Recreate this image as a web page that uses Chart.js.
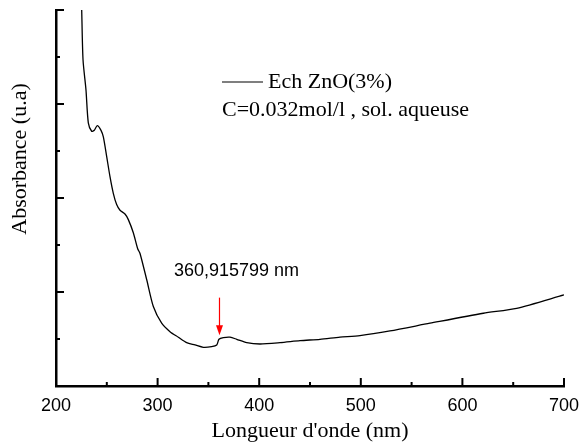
<!DOCTYPE html>
<html>
<head>
<meta charset="utf-8">
<script src="https://cdn.jsdelivr.net/npm/chart.js@4.4.1/dist/chart.umd.min.js"></script>
<style>
  html, body { margin: 0; padding: 0; background: #fff; }
  #wrap { width: 582px; height: 444px; position: relative; }
</style>
</head>
<body>
<div id="wrap"><canvas id="c" width="582" height="444"></canvas></div>
<script>
// UV-visible absorption spectrum, ZnO sample (3%)
const wavelengths = [225.3, 226.6, 229.5, 231.8, 235.1, 237.7, 240.6, 244.3, 246.6, 249.9,
  253.1, 256.4, 259.7, 263.0, 267.9, 271.2, 276.1, 280.4, 282.7, 289.3,
  295.8, 304.0, 312.2, 320.4, 328.6, 336.8, 345.0, 353.2, 358.2, 360.4,
  364.7, 371.3, 377.9, 387.7, 400.8, 420.5, 440.2, 459.8, 479.5, 499.2,
  528.7, 568.1, 620.6, 653.4, 700.0];
const absorbance = [4.00, 3.47, 3.15, 2.80, 2.71, 2.72, 2.77, 2.72, 2.65, 2.44,
  2.23, 2.05, 1.93, 1.87, 1.83, 1.77, 1.63, 1.46, 1.41, 1.13,
  0.845, 0.668, 0.578, 0.519, 0.461, 0.437, 0.412, 0.419, 0.437, 0.497,
  0.514, 0.519, 0.497, 0.461, 0.447, 0.461, 0.482, 0.497, 0.519, 0.536,
  0.586, 0.668, 0.774, 0.827, 0.969];

const xTicks = [200, 300, 400, 500, 600, 700];
const seriesLabel = 'Ech ZnO(3%)';
const conditionText = 'C=0.032mol/l , sol. aqueuse';

// marked band edge
const edgeX = 360.915799;
const edgeText = '360,915799 nm';
const arrowFrom = 0.94;
const arrowTo = 0.54;
const edgeTextY = 1.22;

const points = wavelengths.map((x, i) => ({ x: x, y: absorbance[i] }));

const SERIF = '"Liberation Serif", "Times New Roman", serif';
const SANS = '"Liberation Sans", Arial, sans-serif';

// inward axis ticks, major and minor
const axisTicks = {
  id: 'axisTicks',
  afterDatasetsDraw(chart) {
    const { ctx, scales: { x, y } } = chart;
    ctx.save();
    ctx.strokeStyle = '#000';
    ctx.lineWidth = 2;
    const yb = y.getPixelForValue(0);
    for (let v = 200; v <= 700; v += 50) {
      const px = x.getPixelForValue(v);
      const len = (v % 100 === 0) ? 8 : 4;
      ctx.beginPath(); ctx.moveTo(px, yb); ctx.lineTo(px, yb - len); ctx.stroke();
    }
    const xl = x.getPixelForValue(200);
    for (let v = 0; v <= 4; v += 0.5) {
      const py = y.getPixelForValue(v);
      const len = (v % 1 === 0) ? 8 : 4;
      ctx.beginPath(); ctx.moveTo(xl, py); ctx.lineTo(xl + len, py); ctx.stroke();
    }
    ctx.restore();
  }
};

// legend, y title and the arrow annotation
const extras = {
  id: 'extras',
  afterDraw(chart) {
    const { ctx, scales: { x, y } } = chart;
    ctx.save();
    // y-axis title
    ctx.fillStyle = '#000';
    ctx.font = '22px ' + SERIF;
    ctx.textAlign = 'center';
    ctx.textBaseline = 'middle';
    ctx.translate(20, 159);
    ctx.rotate(-Math.PI / 2);
    ctx.fillText('Absorbance (u.a)', 0, 0);
    ctx.restore();

    ctx.save();
    // legend
    ctx.strokeStyle = '#000';
    ctx.lineWidth = 1.2;
    ctx.beginPath(); ctx.moveTo(222, 82); ctx.lineTo(263, 82); ctx.stroke();
    ctx.fillStyle = '#000';
    ctx.font = '22px ' + SERIF;
    ctx.textAlign = 'left';
    ctx.textBaseline = 'middle';
    ctx.fillText(chart.data.datasets[0].label, 268, 82);
    ctx.fillText(conditionText, 222, 110);

    // arrow
    const ax = x.getPixelForValue(edgeX);
    const a0 = y.getPixelForValue(arrowFrom);
    const a1 = y.getPixelForValue(arrowTo);
    ctx.strokeStyle = '#ff0000';
    ctx.fillStyle = '#ff0000';
    ctx.lineWidth = 1.2;
    ctx.beginPath(); ctx.moveTo(ax, a0); ctx.lineTo(ax, a1 - 8); ctx.stroke();
    ctx.beginPath();
    ctx.moveTo(ax - 3.5, a1 - 10); ctx.lineTo(ax + 3.5, a1 - 10); ctx.lineTo(ax, a1); ctx.closePath();
    ctx.fill();

    ctx.fillStyle = '#000';
    ctx.font = '18px ' + SANS;
    ctx.textAlign = 'center';
    ctx.fillText(edgeText, x.getPixelForValue(edgeX) + 17, y.getPixelForValue(edgeTextY));
    ctx.restore();
  }
};

new Chart(document.getElementById('c'), {
  type: 'line',
  data: {
    datasets: [{
      label: seriesLabel,
      data: points,
      borderColor: '#000',
      borderWidth: 1.3,
      pointRadius: 0,
      tension: 0.25,
      fill: false
    }]
  },
  options: {
    responsive: false,
    animation: false,
    layout: { padding: { top: 10, right: 18, left: 0, bottom: 0 } },
    plugins: { legend: { display: false }, tooltip: { enabled: false } },
    scales: {
      x: {
        type: 'linear',
        min: 200, max: 700,
        afterBuildTicks(scale) { scale.ticks = xTicks.map(v => ({ value: v })); },
        afterFit(scale) { scale.height = 58; scale.paddingLeft = 0; scale.paddingRight = 0; },
        grid: { display: false },
        border: { display: true, color: '#000', width: 2.5 },
        ticks: { color: '#000', font: { family: SANS, size: 18 }, padding: 1, maxRotation: 0 },
        title: { display: true, text: "Longueur d'onde (nm)", color: '#000', font: { family: SERIF, size: 22 }, padding: { top: -4, bottom: 0 } }
      },
      y: {
        type: 'linear',
        min: 0, max: 4,
        afterFit(scale) { scale.width = 56; },
        grid: { display: false },
        border: { display: true, color: '#000', width: 2.5 },
        ticks: { display: false },
        title: { display: false }
      }
    }
  },
  plugins: [axisTicks, extras]
});
</script>
</body>
</html>
